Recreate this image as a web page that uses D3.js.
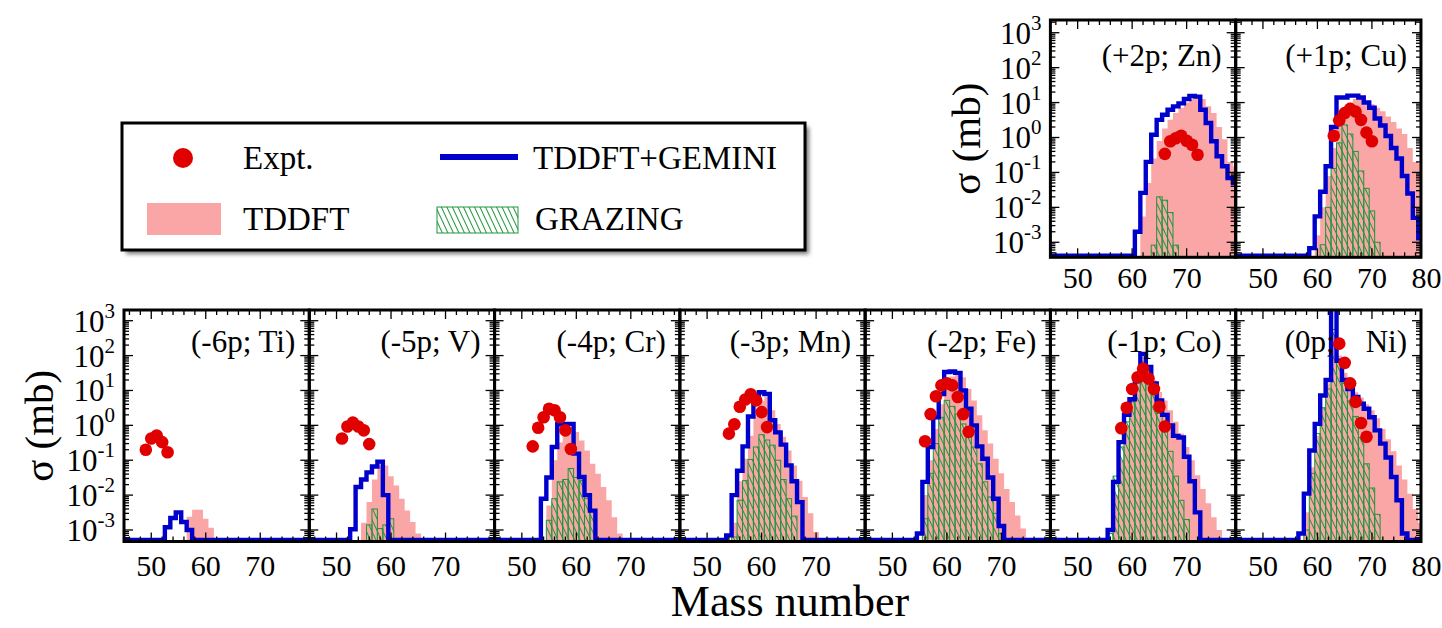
<!DOCTYPE html>
<html><head><meta charset="utf-8">
<script src="https://cdn.jsdelivr.net/npm/d3@7"></script>
<style>
body{margin:0;background:#fff;}
</style></head><body>
<svg id="c" width="1442" height="628"></svg>
<script>
// ---------------- DATA (mass number, cross section in mb) ----------------
const massMajorTicks = [50, 60, 70];
const yExponents = [-3, -2, -1, 0, 1, 2, 3];
const panelLabelsBottom = ["(-6p; Ti)", "(-5p; V)", "(-4p; Cr)", "(-3p; Mn)", "(-2p; Fe)", "(-1p; Co)", "(0p;    Ni)"];
const panelLabelsTop = ["(+2p; Zn)", "(+1p; Cu)"];
const legendLabels = ["Expt.", "TDDFT+GEMINI", "TDDFT", "GRAZING"];

// Ti (-6p)
const exptTi = [[49,0.20],[50,0.42],[51,0.51],[52,0.33],[53,0.17]];
const tddftTi = [[57,2.4e-3],[58,3.8e-3],[59,3.8e-3],[60,2.1e-3],[61,1.15e-3]];
const geminiTi = [[53,1.2e-3],[54,2.2e-3],[55,3.2e-3],[56,1.7e-3],[57,1.0e-3]];
const grazingTi = [];
// V (-5p)
const exptV = [[51,0.42],[52,0.93],[53,1.2],[54,0.93],[55,0.72],[56,0.29]];
const tddftV = [[55,1.6e-3],[56,6.3e-3],[57,0.028],[58,0.071],[59,0.071],[60,0.035],[61,0.019],[62,7.9e-3],[63,3.6e-3],[64,1.7e-3],[65,7.9e-4]];
const geminiV = [[53,1.05e-3],[54,0.017],[55,0.028],[56,0.045],[57,0.066],[58,0.091],[59,0.010]];
const grazingV = [[56,1.4e-3],[57,4.0e-3],[58,1.1e-3],[59,1.4e-3],[60,2.1e-3]];
// Cr (-4p)
const exptCr = [[52,0.25],[53,0.85],[54,1.7],[55,3.0],[56,2.7],[57,1.7],[58,0.72],[59,0.21]];
const tddftCr = [[55,5e-3],[56,0.10],[57,0.32],[58,0.63],[59,0.89],[60,0.65],[61,0.37],[62,0.19],[63,0.079],[64,0.041],[65,0.017],[66,7.1e-3],[67,2.3e-3],[68,7.9e-4]];
const geminiCr = [[54,7.9e-3],[55,0.032],[56,0.24],[57,1.07],[58,1.1],[59,1.1],[60,0.155],[61,0.033],[62,0.010],[63,3.6e-3]];
const grazingCr = [[55,1.9e-3],[56,7.9e-3],[57,0.024],[58,0.028],[59,0.058],[60,0.032],[61,0.026],[62,7.9e-3],[63,3.6e-3]];
// Mn (-3p)
const exptMn = [[54,0.58],[55,1.07],[56,3.4],[57,5.5],[58,7.8],[59,5.2],[60,2.4],[61,0.89]];
const tddftMn = [[55,1.6e-3],[56,0.025],[57,0.11],[58,0.5],[59,2.0],[60,5.0],[61,6.5],[62,2.7],[63,1.1],[64,0.47],[65,0.19],[66,0.071],[67,0.026],[68,8.9e-3],[69,3.0e-3],[70,8.7e-4]];
const geminiMn = [[54,7e-4],[55,0.010],[56,0.05],[57,0.25],[58,1.8],[59,7.1],[60,8.9],[61,7.9],[62,1.4],[63,0.63],[64,0.28],[65,0.071],[66,0.025],[67,6.3e-3]];
const grazingMn = [[55,6.3e-4],[56,7.1e-3],[57,0.026],[58,0.105],[59,0.24],[60,0.54],[61,0.38],[62,0.27],[63,0.10],[64,0.028],[65,7.9e-3],[66,2.5e-3]];
// Fe (-2p)
const exptFe = [[56,0.35],[57,2.1],[58,6.8],[59,14],[60,16],[61,14],[62,6.5],[63,2.1],[64,0.65]];
const tddftFe = [[56,0.010],[57,0.10],[58,0.79],[59,4.0],[60,12.6],[61,25],[62,28],[63,24],[64,11],[65,5.2],[66,1.95],[67,0.72],[68,0.30],[69,0.11],[70,0.042],[71,0.015],[72,6.3e-3],[73,2.6e-3],[74,1.1e-3]];
const geminiFe = [[55,7.9e-4],[56,0.024],[57,0.24],[58,1.7],[59,7.9],[60,34],[61,35],[62,32],[63,10],[64,3.0],[65,1.0],[66,0.25],[67,0.11],[68,0.032],[69,7.9e-3],[70,1.3e-3]];
const grazingFe = [[56,2.1e-3],[57,0.042],[58,0.30],[59,1.7],[60,5.2],[61,3.5],[62,2.1],[63,1.1],[64,0.47],[65,0.24],[66,0.079],[67,0.024],[68,8.9e-3],[69,3.0e-3],[70,7.9e-4]];
// Co (-1p)
const exptCo = [[58,0.83],[59,3.2],[60,11],[61,24],[62,42],[63,22],[64,11],[65,3.4],[66,0.93]];
const tddftCo = [[57,0.010],[58,0.10],[59,1.0],[60,5.0],[61,20],[62,71],[63,52],[64,19.5],[65,9.1],[66,5.2],[67,2.7],[68,1.26],[69,0.58],[70,0.24],[71,0.10],[72,0.037],[73,0.015],[74,5.8e-3],[75,2.3e-3],[76,1.0e-3]];
const geminiCo = [[56,1.0e-3],[57,0.024],[58,0.33],[59,2.0],[60,5.6],[61,20],[62,112],[63,47],[64,16],[65,5.2],[66,2.0],[67,1.0],[68,0.5],[69,0.45],[70,0.126],[71,0.025],[72,3.2e-3]];
const grazingCo = [[56,7.9e-4],[57,0.035],[58,0.24],[59,1.26],[60,5.0],[61,16],[62,22],[63,16],[64,8.9],[65,2.2],[66,0.71],[67,0.18],[68,0.035],[69,7.1e-3],[70,2.0e-3]];
// Ni (0p)
const exptNi = [[64,220],[65,62],[66,16],[67,4.7],[68,1.17],[69,0.47]];
const tddftNi = [[58,3.2e-3],[59,0.063],[60,0.5],[61,3.2],[62,16],[63,400],[64,100],[65,32],[66,16],[67,8.9],[68,6.3],[69,4.0],[70,2.7],[71,1.6],[72,0.79],[73,0.40],[74,0.18],[75,0.071],[76,0.028],[77,0.011],[78,4.0e-3],[79,1.6e-3]];
const geminiNi = [[57,7.9e-4],[58,0.011],[59,0.19],[60,1.1],[61,7.2],[62,20],[63,4000],[64,71],[65,20],[66,11],[67,6.5],[68,4.2],[69,3.0],[70,1.7],[71,0.72],[72,0.30],[73,0.12],[74,0.033],[75,7.1e-3],[76,7.9e-4]];
const grazingNi = [[58,1.0e-3],[59,0.042],[60,0.58],[61,3.2],[62,11],[63,560],[64,63],[65,16],[66,5.0],[67,1.8],[68,0.45],[69,0.079],[70,0.016],[71,2.8e-3]];
// Zn (+2p)
const exptZn = [[66,0.34],[67,0.78],[68,0.95],[69,1.12],[70,0.81],[71,0.62],[72,0.32]];
const tddftZn = [[62,5.5e-3],[63,0.05],[64,0.25],[65,0.79],[66,1.8],[67,3.2],[68,5.0],[69,7.1],[70,10],[71,12.6],[72,14],[73,12.6],[74,7.9],[75,5.0],[76,2.0],[77,0.89],[78,0.20],[79,0.15]];
const geminiZn = [[61,2.0e-3],[62,0.026],[63,0.20],[64,1.2],[65,3.2],[66,4.5],[67,6.2],[68,7.8],[69,9.5],[70,12.6],[71,15.5],[72,14.8],[73,6.2],[74,2.6],[75,0.78],[76,0.29],[77,0.15],[78,0.069],[79,0.05]];
const grazingZn = [[64,8.3e-4],[65,0.020],[66,0.016],[67,7.1e-3],[68,8.3e-4]];
// Cu (+1p)
const exptCu = [[63,1.12],[64,3.1],[65,5.0],[66,6.6],[67,5.5],[68,3.2],[69,1.38],[70,0.78]];
const tddftCu = [[60,1.6e-3],[61,0.010],[62,0.079],[63,0.5],[64,2.5],[65,6.3],[66,10],[67,12.6],[68,12.6],[69,11],[70,8.9],[71,7.1],[72,5.6],[73,4.0],[74,2.8],[75,1.8],[76,1.26],[77,0.5],[78,0.2],[79,0.18]];
const geminiCu = [[59,6.8e-4],[60,5.5e-3],[61,0.028],[62,0.15],[63,2.0],[64,14],[65,14],[66,15.8],[67,15.8],[68,14],[69,10],[70,7.1],[71,3.5],[72,2.2],[73,1.1],[74,0.5],[75,0.25],[76,0.079],[77,0.025],[78,5e-3],[79,1.3e-3]];
const grazingCu = [[61,8.5e-4],[62,0.010],[63,0.13],[64,0.7],[65,2.3],[66,1.26],[67,0.4],[68,0.11],[69,0.035],[70,7.9e-3],[71,1.0e-3]];

// ---------------- STYLE ----------------
const PINK = "#FAA6A6", BLUE = "#0000CD", RED = "#E00000", GREEN = "#1E963C";
const FONT = "Liberation Serif";

const svg = d3.select("#c");
const defs = svg.append("defs");
const pat = defs.append("pattern").attr("id", "hatch").attr("patternUnits", "userSpaceOnUse")
  .attr("width", 5).attr("height", 10).attr("patternTransform", "rotate(-25)");
pat.append("line").attr("x1", 2.5).attr("y1", 0).attr("x2", 2.5).attr("y2", 10)
  .attr("stroke", GREEN).attr("stroke-width", 1);
const blur = defs.append("filter").attr("id", "shadow").attr("x", "-10%").attr("y", "-10%").attr("width", "130%").attr("height", "140%");
blur.append("feGaussianBlur").attr("stdDeviation", 2);

function txt(sel) { return sel.append("text").style("font-family", FONT).attr("fill", "#000"); }

const bottomPanels = [
  {label: panelLabelsBottom[0], expt: exptTi, tddft: tddftTi, gemini: geminiTi, grazing: grazingTi},
  {label: panelLabelsBottom[1], expt: exptV, tddft: tddftV, gemini: geminiV, grazing: grazingV},
  {label: panelLabelsBottom[2], expt: exptCr, tddft: tddftCr, gemini: geminiCr, grazing: grazingCr},
  {label: panelLabelsBottom[3], expt: exptMn, tddft: tddftMn, gemini: geminiMn, grazing: grazingMn},
  {label: panelLabelsBottom[4], expt: exptFe, tddft: tddftFe, gemini: geminiFe, grazing: grazingFe},
  {label: panelLabelsBottom[5], expt: exptCo, tddft: tddftCo, gemini: geminiCo, grazing: grazingCo},
  {label: panelLabelsBottom[6], expt: exptNi, tddft: tddftNi, gemini: geminiNi, grazing: grazingNi}
];
const topPanels = [
  {label: panelLabelsTop[0], expt: exptZn, tddft: tddftZn, gemini: geminiZn, grazing: grazingZn},
  {label: panelLabelsTop[1], expt: exptCu, tddft: tddftCu, gemini: geminiCu, grazing: grazingCu}
];

let clipId = 0;
function drawPanel(p, x0, y0, w, h, yDomain, opts) {
  const x = d3.scaleLinear().domain([45, 79]).range([x0, x0 + w]);
  const y = d3.scaleLog().domain(yDomain).range([y0 + h, y0]);
  const yb = y0 + h;
  const id = "clip" + (clipId++);
  defs.append("clipPath").attr("id", id).append("rect").attr("x", x0).attr("y", y0).attr("width", w).attr("height", h);
  const g = svg.append("g");
  const gc = g.append("g").attr("clip-path", `url(#${id})`);

  if (p.tddft.length) {
    const pts = [];
    p.tddft.forEach(d => { pts.push([d[0] - 0.5, d[1]]); pts.push([d[0] + 0.5, d[1]]); });
    gc.append("path").datum(pts)
      .attr("d", d3.area().x(d => x(d[0])).y0(yb).y1(d => y(d[1])))
      .attr("fill", PINK);
  }
  gc.selectAll("rect.gr").data(p.grazing).join("rect").attr("class", "gr")
    .attr("x", d => x(d[0] - 0.5)).attr("width", d => x(d[0] + 0.5) - x(d[0] - 0.5))
    .attr("y", d => y(d[1])).attr("height", d => yb - y(d[1]))
    .attr("fill", "url(#hatch)").attr("stroke", GREEN).attr("stroke-width", 1);
  const gm = new Map(p.gemini);
  const steps = [];
  for (let k = 45; k <= 79; k++) {
    const v = gm.get(k);
    const yy = v ? y(v) : yb - 1.5;
    steps.push([x(Math.max(45, k - 0.5)), yy]);
    steps.push([x(Math.min(79, k + 0.5)), yy]);
  }
  gc.append("path").datum(steps).attr("d", d3.line())
    .attr("fill", "none").attr("stroke", BLUE).attr("stroke-width", 4.4).attr("stroke-linejoin", "miter");
  g.selectAll("circle").data(p.expt).join("circle")
    .attr("cx", d => x(d[0])).attr("cy", d => y(d[1])).attr("r", 6.3).attr("fill", RED);

  g.append("rect").attr("x", x0).attr("y", y0).attr("width", w).attr("height", h)
    .attr("fill", "none").attr("stroke", "#000").attr("stroke-width", 3);

  const tg = g.append("g").attr("stroke", "#000").attr("stroke-width", 1.3);
  const yTicks = [];
  for (let n = -4; n <= 3; n++) for (let k = 1; k <= 9; k++) {
    const v = k * Math.pow(10, n);
    if (v >= yDomain[0] && v <= yDomain[1]) yTicks.push({v, major: k === 1});
  }
  yTicks.forEach(t => {
    const L = t.major ? 9 : 5, yy = y(t.v);
    tg.append("line").attr("x1", x0).attr("x2", x0 + L).attr("y1", yy).attr("y2", yy);
    tg.append("line").attr("x1", x0 + w - L).attr("x2", x0 + w).attr("y1", yy).attr("y2", yy);
  });
  const xTicks = d3.range(46, 79, 2).map(v => ({v, major: massMajorTicks.includes(v)}));
  xTicks.forEach(t => {
    const L = t.major ? 9 : 5, xx = x(t.v);
    tg.append("line").attr("x1", xx).attr("x2", xx).attr("y1", yb).attr("y2", yb - L);
    tg.append("line").attr("x1", xx).attr("x2", xx).attr("y1", y0).attr("y2", y0 + L);
  });

  const xl = massMajorTicks.slice();
  if (opts.show80) xl.push(80);
  xl.forEach(d => txt(g).attr("x", x(d)).attr("y", yb + opts.xLabelDy).attr("text-anchor", "middle")
    .attr("font-size", 30).text(d));

  if (opts.showY) {
    yExponents.forEach(e => {
      const t = txt(g).attr("x", x0 - 9).attr("y", y(Math.pow(10, e)) + 11)
        .attr("text-anchor", "end").attr("font-size", 31);
      t.append("tspan").text("10");
      t.append("tspan").attr("font-size", 21).attr("dy", -14).text(String(e));
    });
  }
  txt(g).attr("x", x0 + w - 14).attr("y", y0 + opts.labelDy)
    .attr("text-anchor", "end").attr("font-size", 31)
    .style("white-space", "pre").text(p.label);
}

const bL = 124, bR = 1421, bT = 310, bB = 541.5;
const bW = (bR - bL) / 7;
const bDomain = [Math.pow(10, -3.33), Math.pow(10, 3.307)];
bottomPanels.forEach((p, i) => drawPanel(p, bL + i * bW, bT, bW, bB - bT, bDomain,
  {showY: i === 0, show80: i === 6, xLabelDy: 34, labelDy: 42}));
const tL = 1050.4, tT = 20, tB = 257.3;
const tDomain = [Math.pow(10, -3.43), Math.pow(10, 3.364)];
topPanels.forEach((p, i) => drawPanel(p, tL + i * bW, tT, bW, tB - tT, tDomain,
  {showY: i === 0, show80: i === 1, xLabelDy: 31, labelDy: 46}));

txt(svg).attr("transform", `translate(53,${(bT + bB) / 2}) rotate(-90)`)
  .attr("text-anchor", "middle").attr("font-size", 41).text("σ (mb)");
txt(svg).attr("transform", `translate(980,${(tT + tB) / 2}) rotate(-90)`)
  .attr("text-anchor", "middle").attr("font-size", 41).text("σ (mb)");
txt(svg).attr("x", 790).attr("y", 616).attr("text-anchor", "middle")
  .attr("font-size", 44).text("Mass number");

const lg = svg.append("g");
lg.append("rect").attr("x", 126).attr("y", 127).attr("width", 683).attr("height", 127)
  .attr("fill", "#777").attr("filter", "url(#shadow)");
lg.append("rect").attr("x", 122).attr("y", 123).attr("width", 683).attr("height", 127)
  .attr("fill", "#fff").attr("stroke", "#000").attr("stroke-width", 3);
lg.append("circle").attr("cx", 183).attr("cy", 158).attr("r", 10).attr("fill", RED);
lg.append("line").attr("x1", 440).attr("x2", 518).attr("y1", 157).attr("y2", 157)
  .attr("stroke", BLUE).attr("stroke-width", 6);
lg.append("rect").attr("x", 147).attr("y", 203).attr("width", 74).attr("height", 32).attr("fill", PINK);
lg.append("rect").attr("x", 437).attr("y", 207).attr("width", 81).attr("height", 26)
  .attr("fill", "url(#hatch)").attr("stroke", GREEN).attr("stroke-width", 1);
const lpos = [[243, 169], [533, 169], [243, 230], [535, 230]];
legendLabels.forEach((s, i) => txt(lg).attr("x", lpos[i][0]).attr("y", lpos[i][1])
  .attr("font-size", 33).text(s));
</script>
</body></html>
